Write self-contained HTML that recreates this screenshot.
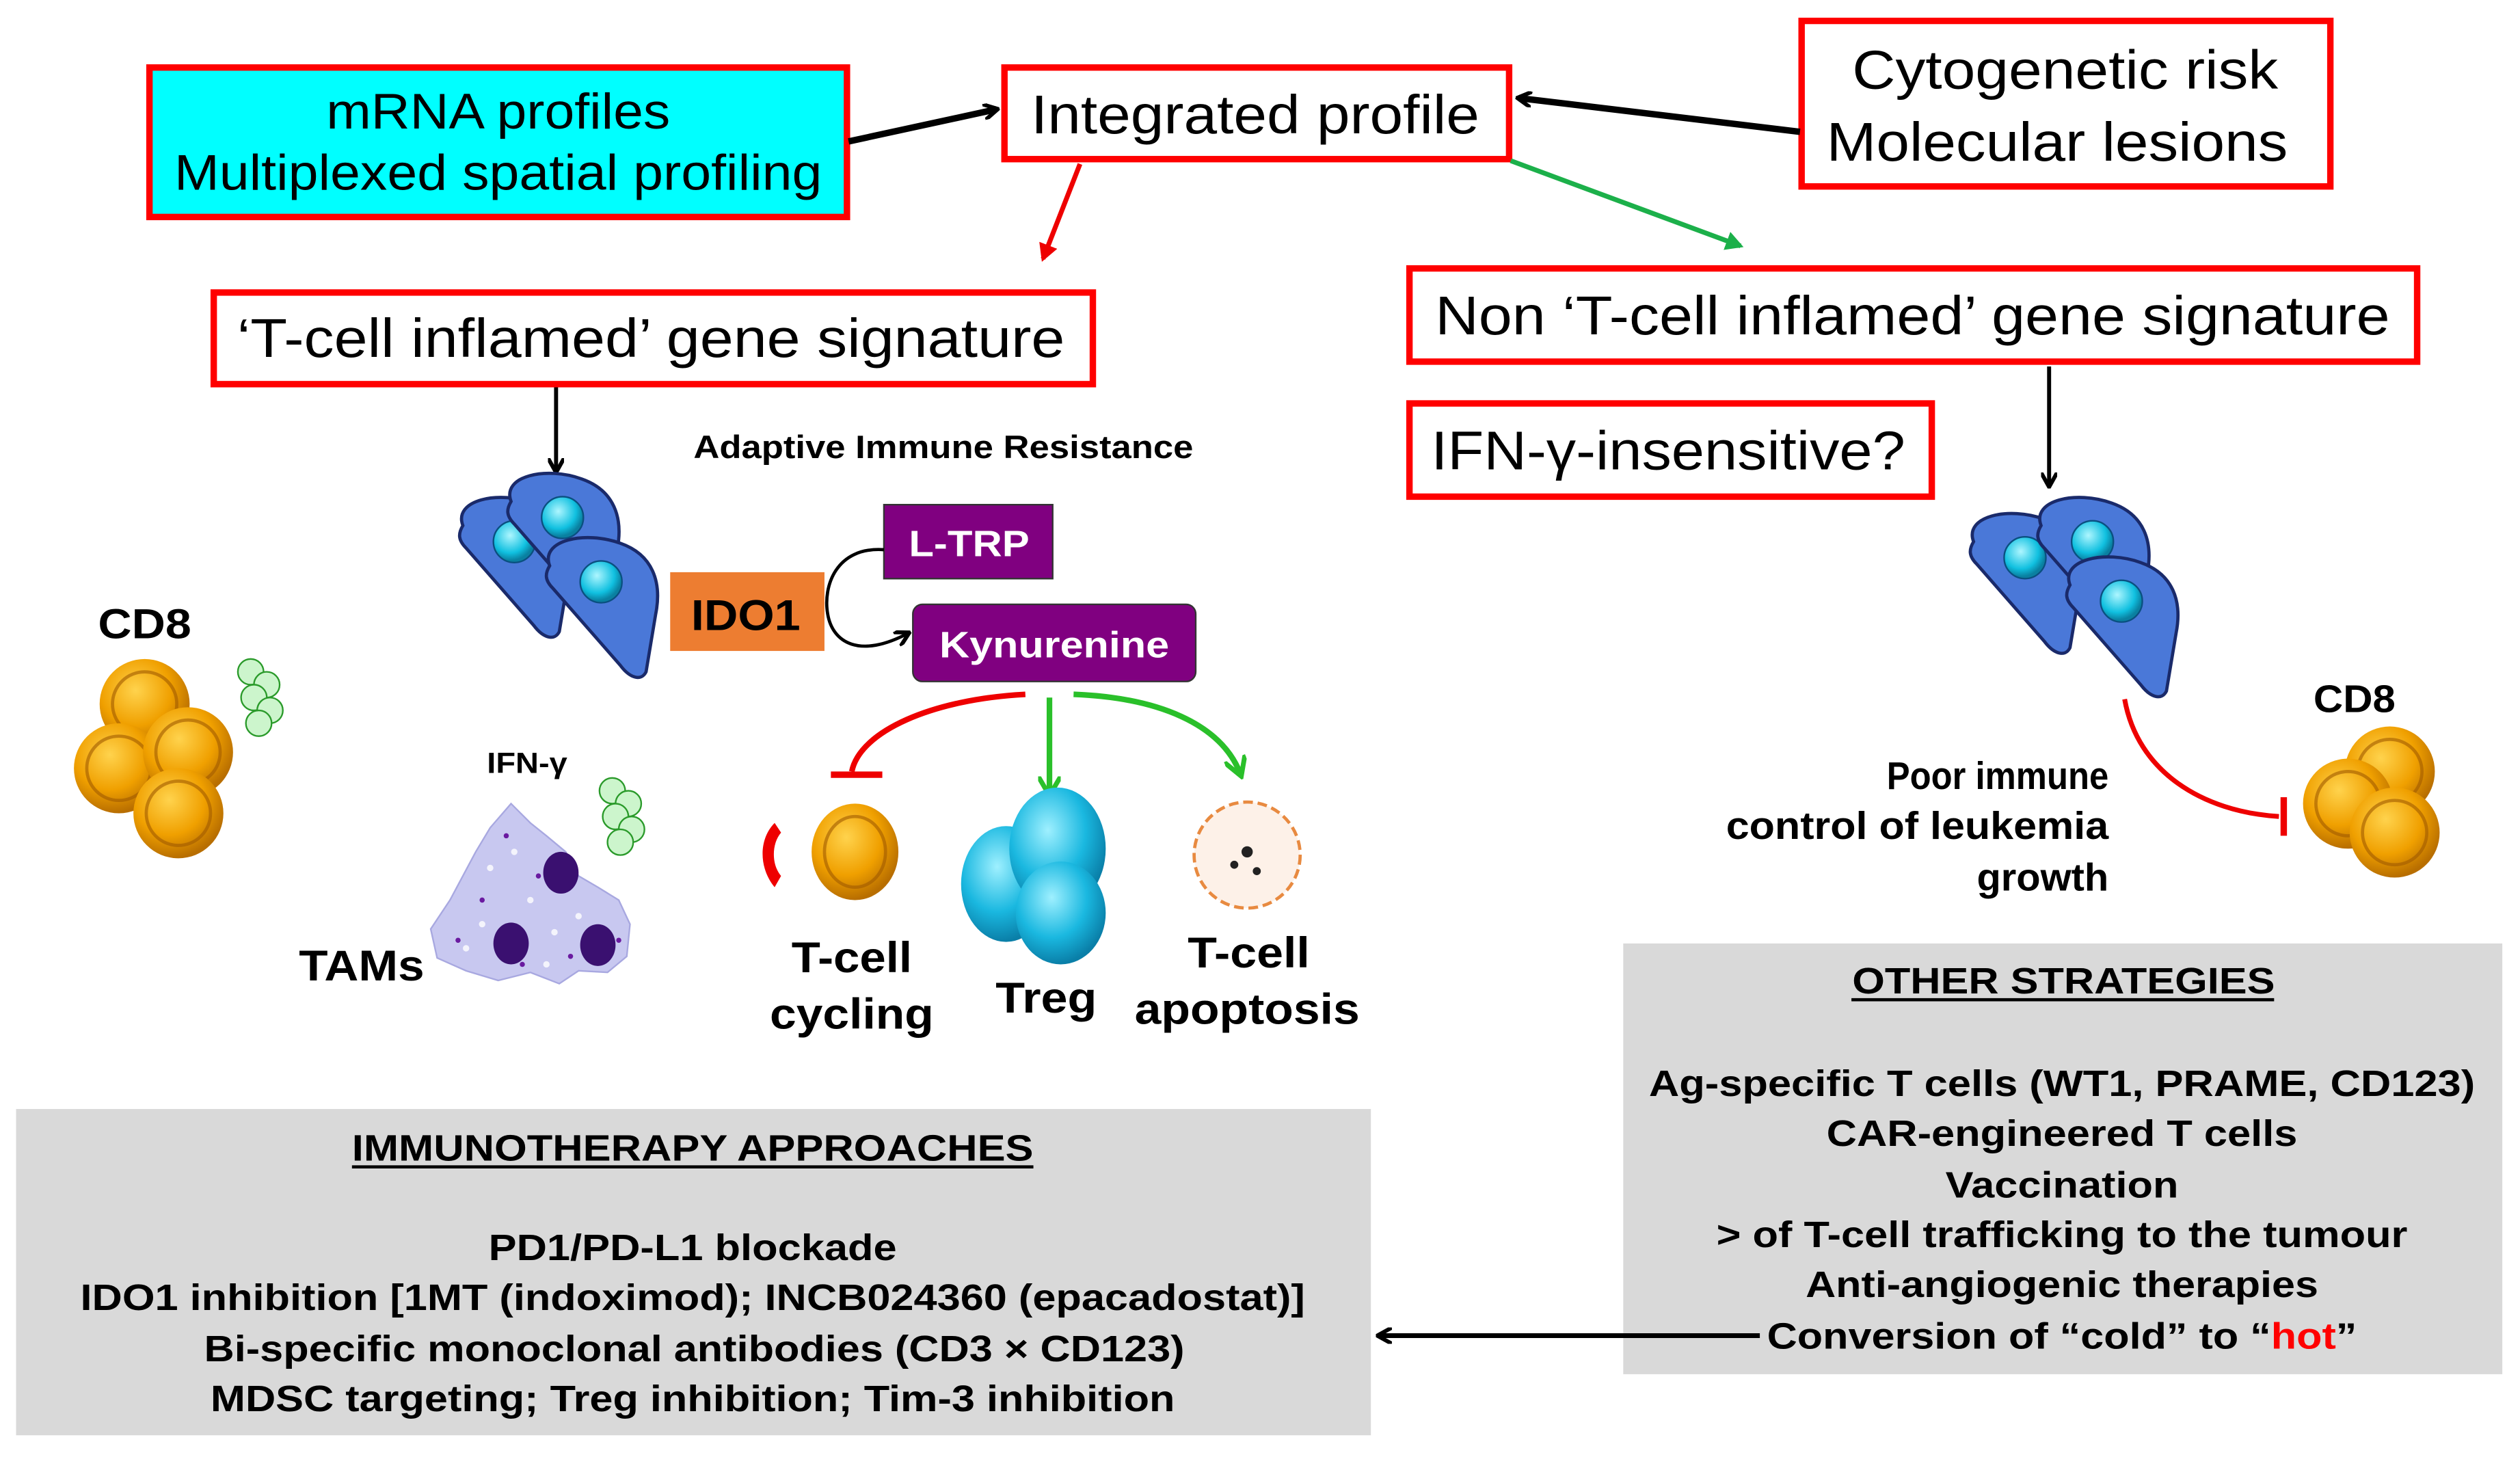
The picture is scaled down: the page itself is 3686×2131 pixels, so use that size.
<!DOCTYPE html>
<html><head><meta charset="utf-8"><style>
html,body{margin:0;padding:0;background:#fff;width:3686px;height:2131px;overflow:hidden}
svg{display:block}
text{font-family:"Liberation Sans",sans-serif}
.b{font-weight:bold}
</style></head><body>
<svg width="3686" height="2131" viewBox="0 0 1568 906.5" xmlns="http://www.w3.org/2000/svg">
<defs>
<radialGradient id="org" cx="40%" cy="35%" r="65%"><stop offset="0" stop-color="#ffd34d"/><stop offset="0.6" stop-color="#f0a000"/><stop offset="1" stop-color="#b86e00"/></radialGradient>
<radialGradient id="cyn" cx="40%" cy="35%" r="65%"><stop offset="0" stop-color="#9ff0ff"/><stop offset="0.6" stop-color="#1ab8e0"/><stop offset="1" stop-color="#0a7fa8"/></radialGradient>
<radialGradient id="nuc" cx="40%" cy="35%" r="60%"><stop offset="0" stop-color="#aef6ff"/><stop offset="0.7" stop-color="#10c0e0"/><stop offset="1" stop-color="#0a80a0"/></radialGradient>
<g id="cell"><path d="M-30,-18 C-36,-34 -8,-40 14,-32 C34,-25 40,-8 36,12 L30,48 C27,54 20,52 14,44 L-28,-4 C-33,-9 -33,-13 -30,-18 Z" fill="#4a78d8" stroke="#1a2a6a" stroke-width="2"/><circle cx="2" cy="-8" r="13" fill="url(#nuc)" stroke="#0a5080" stroke-width="1"/></g>
<g id="tc"><circle r="28" fill="url(#org)"/><circle r="20" fill="none" stroke="#a05a00" stroke-width="2" opacity="0.6"/></g>
<g id="gc" fill="#ccf5cc" stroke="#2a9a2a" stroke-width="1"><circle cx="0" cy="0" r="8"/><circle cx="10" cy="8" r="8"/><circle cx="2" cy="16" r="8"/><circle cx="12" cy="24" r="8"/><circle cx="5" cy="32" r="8"/></g>
<marker id="ak" markerWidth="10" markerHeight="10" refX="8" refY="5" orient="auto" markerUnits="userSpaceOnUse"><path d="M0,0 L9,5 L0,10" fill="none" stroke="#000" stroke-width="2.5"/></marker>
<marker id="ar" markerWidth="12" markerHeight="12" refX="9" refY="6" orient="auto" markerUnits="userSpaceOnUse"><path d="M0,0 L11,6 L0,12 Z" fill="#e00"/></marker>
<marker id="ag" markerWidth="12" markerHeight="12" refX="9" refY="6" orient="auto" markerUnits="userSpaceOnUse"><path d="M0,0 L11,6 L0,12 Z" fill="#1cb04a"/></marker>
<marker id="ag2" markerWidth="14" markerHeight="14" refX="11" refY="7" orient="auto" markerUnits="userSpaceOnUse"><path d="M0,0 L12,7 L0,14" fill="none" stroke="#2ac02a" stroke-width="3"/></marker>
</defs>

<rect x="93" y="42" width="434" height="93" fill="#00ffff" stroke="#f00" stroke-width="4"/>
<text x="310" y="80" font-size="31" text-anchor="middle" textLength="214" lengthAdjust="spacingAndGlyphs">mRNA profiles</text>
<text x="310" y="118" font-size="31" text-anchor="middle" textLength="403" lengthAdjust="spacingAndGlyphs">Multiplexed spatial profiling</text>

<rect x="625" y="42" width="314" height="57" fill="#fff" stroke="#f00" stroke-width="4"/>
<text x="781" y="83" font-size="34" text-anchor="middle" textLength="279" lengthAdjust="spacingAndGlyphs">Integrated profile</text>

<rect x="1121" y="13" width="329" height="103" fill="#fff" stroke="#f00" stroke-width="4"/>
<text x="1285" y="55" font-size="34" text-anchor="middle" textLength="265" lengthAdjust="spacingAndGlyphs">Cytogenetic risk</text>
<text x="1280" y="100" font-size="34" text-anchor="middle" textLength="287" lengthAdjust="spacingAndGlyphs">Molecular lesions</text>

<rect x="133" y="182" width="547" height="57" fill="#fff" stroke="#f00" stroke-width="4"/>
<text x="405" y="222" font-size="34" text-anchor="middle" textLength="515" lengthAdjust="spacingAndGlyphs">‘T-cell inflamed’ gene signature</text>

<rect x="877" y="167" width="627" height="58" fill="#fff" stroke="#f00" stroke-width="4"/>
<text x="1190" y="208" font-size="34" text-anchor="middle" textLength="594" lengthAdjust="spacingAndGlyphs">Non ‘T-cell inflamed’ gene signature</text>

<rect x="877" y="251" width="325" height="58" fill="#fff" stroke="#f00" stroke-width="4"/>
<text x="1038" y="292" font-size="34" text-anchor="middle" textLength="295" lengthAdjust="spacingAndGlyphs">IFN-γ-insensitive?</text>

<line x1="528" y1="88" x2="620" y2="68" stroke="#000" stroke-width="4" marker-end="url(#ak)"/>
<line x1="1120" y1="82" x2="945" y2="61" stroke="#000" stroke-width="4" marker-end="url(#ak)"/>
<line x1="672" y1="102" x2="649" y2="161" stroke="#e00" stroke-width="3" marker-end="url(#ar)"/>
<line x1="940" y1="100" x2="1083" y2="153" stroke="#1cb04a" stroke-width="3" marker-end="url(#ag)"/>
<line x1="346" y1="241" x2="346" y2="293" stroke="#000" stroke-width="2.5" marker-end="url(#ak)"/>
<line x1="1275" y1="228" x2="1275" y2="302" stroke="#000" stroke-width="2.5" marker-end="url(#ak)"/>

<text x="587" y="285" font-size="20" class="b" text-anchor="middle" textLength="311" lengthAdjust="spacingAndGlyphs">Adaptive Immune Resistance</text>
<use href="#cell" x="318" y="345"/>
<use href="#cell" x="348" y="330"/>
<use href="#cell" x="372" y="370"/>

<rect x="417" y="356" width="96" height="49" fill="#ed7d31"/>
<text x="464" y="392" font-size="27" class="b" text-anchor="middle" textLength="68" lengthAdjust="spacingAndGlyphs">IDO1</text>
<rect x="550" y="314" width="105" height="46" fill="#800080" stroke="#333" stroke-width="1"/>
<text x="603" y="346" font-size="23" class="b" fill="#fff" text-anchor="middle" textLength="75" lengthAdjust="spacingAndGlyphs">L-TRP</text>
<rect x="568" y="376" width="176" height="48" rx="6" fill="#800080" stroke="#333" stroke-width="1"/>
<text x="656" y="409" font-size="23" class="b" fill="#fff" text-anchor="middle" textLength="143" lengthAdjust="spacingAndGlyphs">Kynurenine</text>
<path d="M550,342 C520,340 512,365 515,382 C518,400 535,410 565,394" fill="none" stroke="#000" stroke-width="2" marker-end="url(#ak)"/>

<path d="M638,432 C580,435 535,455 530,480" fill="none" stroke="#e00" stroke-width="3.5"/>
<line x1="517" y1="482" x2="549" y2="482" stroke="#e00" stroke-width="4"/>
<line x1="653" y1="434" x2="653" y2="494" stroke="#2ac02a" stroke-width="3.5" marker-end="url(#ag2)"/>
<path d="M668,432 C720,434 760,450 772,482" fill="none" stroke="#2ac02a" stroke-width="3.5" marker-end="url(#ag2)"/>

<text x="90" y="397" font-size="26" class="b" text-anchor="middle" textLength="58" lengthAdjust="spacingAndGlyphs">CD8</text>
<use href="#tc" x="90" y="438"/>
<use href="#tc" x="74" y="478"/>
<use href="#tc" x="117" y="468"/>
<use href="#tc" x="111" y="506"/>
<use href="#gc" x="156" y="418"/>

<text x="328" y="481" font-size="18" class="b" text-anchor="middle" textLength="50" lengthAdjust="spacingAndGlyphs">IFN-γ</text>
<use href="#gc" x="381" y="492"/>
<path d="M318,500 L330,512 L340,520 L352,530 L360,545 L372,552 L385,560 L392,575 L390,595 L378,605 L360,604 L348,612 L330,605 L310,610 L290,604 L272,596 L268,578 L280,560 L288,545 L296,530 L305,515 Z" fill="#c8c8f0" stroke="#a8a8e0" stroke-width="1"/>
<g fill="#fff" opacity="0.8"><circle cx="305" cy="540" r="2"/><circle cx="320" cy="530" r="2"/><circle cx="330" cy="560" r="2"/><circle cx="300" cy="575" r="2"/><circle cx="345" cy="580" r="2"/><circle cx="360" cy="570" r="2"/><circle cx="290" cy="590" r="2"/><circle cx="340" cy="600" r="2"/></g>
<g fill="#6a1aa0"><circle cx="315" cy="520" r="1.6"/><circle cx="300" cy="560" r="1.6"/><circle cx="335" cy="545" r="1.6"/><circle cx="285" cy="585" r="1.6"/><circle cx="355" cy="595" r="1.6"/><circle cx="385" cy="585" r="1.6"/><circle cx="325" cy="600" r="1.6"/></g>
<ellipse cx="349" cy="543" rx="11" ry="13" fill="#3a1070"/>
<ellipse cx="318" cy="587" rx="11" ry="13" fill="#3a1070"/>
<ellipse cx="372" cy="588" rx="11" ry="13" fill="#3a1070"/>
<text x="225" y="610" font-size="27" class="b" text-anchor="middle" textLength="78" lengthAdjust="spacingAndGlyphs">TAMs</text>

<ellipse cx="532" cy="530" rx="27" ry="30" fill="url(#org)"/>
<ellipse cx="532" cy="530" rx="19" ry="22" fill="none" stroke="#a05a00" stroke-width="2" opacity="0.6"/>
<path d="M482,512 C472,522 472,540 482,552 L486,545 C480,538 480,525 486,518 Z" fill="#e00"/>
<ellipse cx="626" cy="550" rx="28" ry="36" fill="url(#cyn)"/>
<ellipse cx="658" cy="528" rx="30" ry="38" fill="url(#cyn)"/>
<ellipse cx="660" cy="568" rx="28" ry="32" fill="url(#cyn)"/>
<circle cx="776" cy="532" r="33" fill="#fdf1e8" stroke="#e88a40" stroke-width="2" stroke-dasharray="6,3"/>
<circle cx="776" cy="530" r="3.5" fill="#222"/><circle cx="768" cy="538" r="2.5" fill="#222"/><circle cx="782" cy="542" r="2.5" fill="#222"/>

<text x="530" y="605" font-size="27" class="b" text-anchor="middle" textLength="75" lengthAdjust="spacingAndGlyphs">T-cell</text>
<text x="530" y="640" font-size="27" class="b" text-anchor="middle" textLength="102" lengthAdjust="spacingAndGlyphs">cycling</text>
<text x="651" y="630" font-size="27" class="b" text-anchor="middle" textLength="63" lengthAdjust="spacingAndGlyphs">Treg</text>
<text x="777" y="602" font-size="27" class="b" text-anchor="middle" textLength="76" lengthAdjust="spacingAndGlyphs">T-cell</text>
<text x="776" y="637" font-size="27" class="b" text-anchor="middle" textLength="140" lengthAdjust="spacingAndGlyphs">apoptosis</text>

<use href="#cell" x="1258" y="355"/>
<use href="#cell" x="1300" y="345"/>
<use href="#cell" x="1318" y="382"/>
<path d="M1322,435 C1330,480 1370,505 1418,508" fill="none" stroke="#e00" stroke-width="3"/>
<line x1="1421" y1="496" x2="1421" y2="520" stroke="#e00" stroke-width="4"/>
<text x="1465" y="443" font-size="24" class="b" text-anchor="middle" textLength="51" lengthAdjust="spacingAndGlyphs">CD8</text>
<use href="#tc" x="1487" y="480"/>
<use href="#tc" x="1461" y="500"/>
<use href="#tc" x="1490" y="518"/>
<text x="1312" y="491" font-size="24" class="b" text-anchor="end" textLength="138" lengthAdjust="spacingAndGlyphs">Poor immune</text>
<text x="1312" y="522" font-size="24" class="b" text-anchor="end" textLength="238" lengthAdjust="spacingAndGlyphs">control of leukemia</text>
<text x="1312" y="554" font-size="24" class="b" text-anchor="end" textLength="82" lengthAdjust="spacingAndGlyphs">growth</text>

<rect x="1010" y="587" width="547" height="268" fill="#d9d9d9"/>
<text x="1284" y="618" font-size="23" class="b" text-anchor="middle" textLength="263" lengthAdjust="spacingAndGlyphs">OTHER STRATEGIES</text>
<line x1="1152" y1="622" x2="1415" y2="622" stroke="#000" stroke-width="2"/>
<g font-size="23" text-anchor="middle" font-weight="bold">
<text x="1283" y="682" textLength="514" lengthAdjust="spacingAndGlyphs">Ag-specific T cells (WT1, PRAME, CD123)</text>
<text x="1283" y="713" textLength="293" lengthAdjust="spacingAndGlyphs">CAR-engineered T cells</text>
<text x="1283" y="745" textLength="145" lengthAdjust="spacingAndGlyphs">Vaccination</text>
<text x="1283" y="776" textLength="430" lengthAdjust="spacingAndGlyphs">&gt; of T-cell trafficking to the tumour</text>
<text x="1283" y="807" textLength="319" lengthAdjust="spacingAndGlyphs">Anti-angiogenic therapies</text>
<text x="1283" y="839" textLength="367" lengthAdjust="spacingAndGlyphs">Conversion of “cold” to “<tspan fill="#f00">hot</tspan>”</text>
</g>

<rect x="10" y="690" width="843" height="203" fill="#d9d9d9"/>
<text x="431" y="722" font-size="23" font-weight="bold" text-anchor="middle" textLength="424" lengthAdjust="spacingAndGlyphs">IMMUNOTHERAPY APPROACHES</text>
<line x1="219" y1="726" x2="643" y2="726" stroke="#000" stroke-width="2"/>
<g font-size="23" font-weight="bold" text-anchor="middle">
<text x="431" y="784" textLength="254" lengthAdjust="spacingAndGlyphs">PD1/PD-L1 blockade</text>
<text x="431" y="815" textLength="762" lengthAdjust="spacingAndGlyphs">IDO1 inhibition [1MT (indoximod); INCB024360 (epacadostat)]</text>
<text x="432" y="847" textLength="610" lengthAdjust="spacingAndGlyphs">Bi-specific monoclonal antibodies (CD3 × CD123)</text>
<text x="431" y="878" textLength="600" lengthAdjust="spacingAndGlyphs">MDSC targeting; Treg inhibition; Tim-3 inhibition</text>
</g>
<line x1="1095" y1="831" x2="858" y2="831" stroke="#000" stroke-width="3" marker-end="url(#ak)"/>
</svg>
</body></html>
